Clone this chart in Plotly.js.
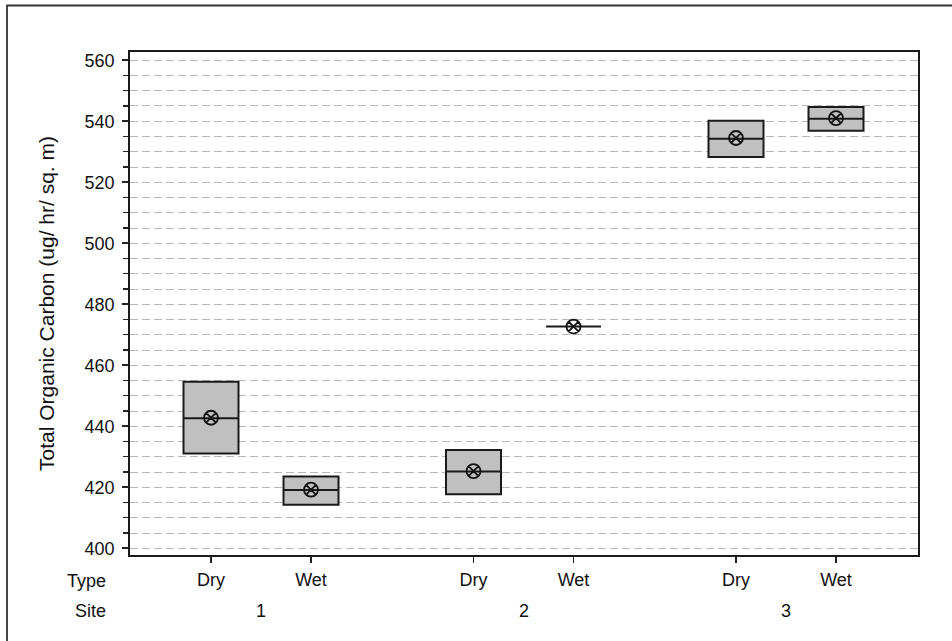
<!DOCTYPE html>
<html>
<head>
<meta charset="utf-8">
<script src="https://cdn.plot.ly/plotly-3.0.1.min.js"></script>
<style>
html,body{margin:0;padding:0;background:#fff;}
#chart{width:952px;height:641px;}
</style>
</head>
<body>
<div id="chart"></div>
<script>
// ---- data ----
const sites = ['1', '2', '3'];
const types = ['Dry', 'Wet'];
// one entry per (site, type): 1-Dry, 1-Wet, 2-Dry, 2-Wet, 3-Dry, 3-Wet
const q1     = [431.1, 414.3, 417.7, 472.7, 528.3, 536.9];
const median = [442.6, 419.1, 425.2, 472.7, 534.3, 540.8];
const q3     = [454.6, 423.5, 432.2, 472.7, 540.2, 544.7];
const means  = [442.8, 419.2, 425.3, 472.7, 534.5, 541.0];
const yTitle = 'Total Organic Carbon (ug/ hr/ sq. m)';

// ---- layout helpers ----
const siteGap = 2.625;
const xs = [], tickText = [], siteCenters = [];
sites.forEach((s, i) => {
  types.forEach((t, j) => {
    xs.push(1 + i * siteGap + j);
    tickText.push(t);
  });
  siteCenters.push(1 + i * siteGap + (types.length - 1) / 2);
});

const font = 'Liberation Sans, Arial, Helvetica, sans-serif';

const boxTrace = {
  type: 'box',
  x: xs,
  q1: q1,
  median: median,
  q3: q3,
  lowerfence: q1,
  upperfence: q3,
  width: 0.55,
  whiskerwidth: 0,
  fillcolor: '#c0c0c0',
  line: {color: '#1a1a1a', width: 2},
  hoverinfo: 'skip',
  showlegend: false
};

const meanTrace = {
  type: 'scatter',
  mode: 'markers',
  x: xs,
  y: means,
  marker: {symbol: 'circle-x-open', size: 14, color: '#111111', line: {width: 1.8, color: '#111111'}},
  hoverinfo: 'skip',
  showlegend: false
};

const L = 130, R = 34, T = 52, B = 86, W = 952, H = 641;
const pw = W - L - R, ph = H - T - B;
const px2x = p => (p - L) / pw;           // pixel -> paper x
const py2y = p => (H - B - p) / ph;       // pixel -> paper y

const annotations = [
  {text: 'Type', xref: 'paper', yref: 'paper', x: px2x(108), y: py2y(581), xanchor: 'right', yanchor: 'middle', showarrow: false, font: {family: font, size: 18, color: '#111'}},
  {text: 'Site', xref: 'paper', yref: 'paper', x: px2x(108), y: py2y(611), xanchor: 'right', yanchor: 'middle', showarrow: false, font: {family: font, size: 18, color: '#111'}}
];
sites.forEach((s, i) => {
  annotations.push({text: s, xref: 'x', yref: 'paper', x: siteCenters[i], y: py2y(611), xanchor: 'center', yanchor: 'middle', showarrow: false, font: {family: font, size: 18, color: '#111'}});
});

const layout = {
  width: W, height: H,
  margin: {l: L, r: R, t: T, b: B, pad: 0},
  paper_bgcolor: '#ffffff',
  plot_bgcolor: '#ffffff',
  font: {family: font, size: 18, color: '#111'},
  showlegend: false,
  xaxis: {
    range: [0.19, 8.07],
    tickmode: 'array',
    tickvals: xs,
    ticktext: tickText,
    ticks: 'outside', ticklen: 6, tickwidth: 1.6, tickcolor: '#222',
    showgrid: false, zeroline: false,
    showline: true, linecolor: '#1a1a1a', linewidth: 1.8, mirror: true,
    tickfont: {family: font, size: 18, color: '#111'},
    ticklabelstandoff: 2,
    fixedrange: true
  },
  yaxis: {
    range: [397.8, 562.7],
    tick0: 400, dtick: 20,
    ticks: 'outside', ticklen: 6, tickwidth: 1.6, tickcolor: '#222',
    showgrid: true, gridcolor: '#b8b8b8', gridwidth: 1, griddash: '8px,4px',
    minor: {dtick: 5, ticks: 'outside', ticklen: 5, tickwidth: 1.4, tickcolor: '#222',
            showgrid: true, gridcolor: '#b8b8b8', gridwidth: 1, griddash: '8px,4px'},
    zeroline: false,
    showline: true, linecolor: '#1a1a1a', linewidth: 1.8, mirror: true,
    tickfont: {family: font, size: 18, color: '#111'},
    ticklabelstandoff: 4,
    title: {text: yTitle, font: {family: font, size: 21, color: '#111'}, standoff: 24},
    automargin: false,
    fixedrange: true
  },
  annotations: annotations,
  shapes: [
    {type: 'rect', xref: 'paper', yref: 'paper', x0: px2x(7), x1: px2x(1000), y0: py2y(700), y1: py2y(5.5),
     line: {color: '#333', width: 1.8}, fillcolor: 'rgba(0,0,0,0)', layer: 'below'}
  ]
};

Plotly.newPlot('chart', [boxTrace, meanTrace], layout, {displayModeBar: false, staticPlot: true});
</script>
</body>
</html>
